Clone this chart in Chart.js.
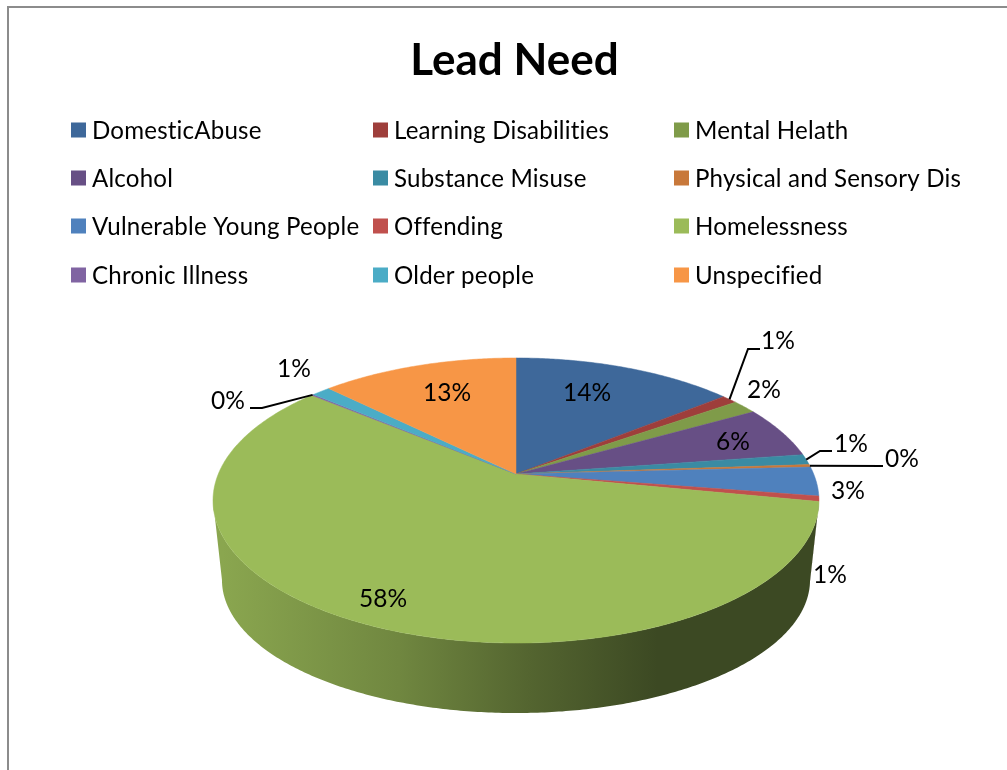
<!DOCTYPE html>
<html lang="en">
<head>
    <meta charset="UTF-8">
    <script src="https://cdn.jsdelivr.net/npm/chart.js"></script>
    <style>
        body { margin: 0; padding: 0; background: #fff; overflow: hidden; }
        .chart-container { position: relative; width: 1007px; height: 770px; }
        /* chart frame: only left and top edges show in the crop */
        .frame { position: absolute; left: 7px; top: 6px; width: 1000px; height: 764px;
                 border-left: 2px solid #8c8c8c; border-top: 2px solid #8c8c8c; }
        canvas { position: absolute; left: 0; top: 0; }
    </style>
</head>
<body>

    <div class="chart-container">
        <div class="frame"></div>
        <canvas id="myChart" width="1007" height="770"></canvas>
    </div>

    <script>
        const titleText = 'Lead Need';
        const categories = ['DomesticAbuse', 'Learning Disabilities', 'Mental Helath',
            'Alcohol', 'Substance Misuse', 'Physical and Sensory Dis',
            'Vulnerable Young People', 'Offending', 'Homelessness',
            'Chronic Illness', 'Older people', 'Unspecified'];
        const shares = [14.2, 1.0, 1.6, 5.9, 1.2, 0.3, 3.3, 0.6, 58.0, 0.14, 1.2, 12.6];
        const colors = ['#3e689a', '#9e3e3b', '#7f9b49', '#674f85', '#3a8ba3', '#c8783a',
            '#4f81bd', '#c0504d', '#9bbb59', '#8064a2', '#4bacc6', '#f79646'];

        // --- LAYOUT ---
        const FONT = 'Lato, Carlito, sans-serif';
        const legendCols = [71, 373, 674];
        const legendRows = [130, 178, 226, 275];
        // centre of each percentage label
        const labelPos = [[587, 393], [778, 341], [764, 390], [733, 442], [851, 444], [902, 459],
            [848, 491], [830, 575], [383, 599], [228, 401], [294, 369], [447, 393]];
        // leader lines: slice index -> points after the rim point
        const leaders = { 1: [[748, 349], [760, 349]], 4: [[820, 451], [832, 451]],
            5: [[883, 466]], 9: [[262, 408], [250, 408]] };

        // pie is a tilted disc, so use a projective map instead of a plain ellipse
        const k = 0.186;
        const topFace = { cx: 516, cy: 474, a: 297.7, b: 137.6 };
        const bottomFace = { cx: 516, cy: 555.3, a: 288.9, b: 128.4 };

        function project(f, angle) {
            const u = Math.cos(angle), v = Math.sin(angle), w = 1 - k * v;
            return [f.cx + f.a * u / w, f.cy + f.b * v / w];
        }

        class Arc3D extends Chart.ArcElement {
            static id = 'arc3d';
            draw(ctx) {
                const { startAngle, endAngle } = this.getProps(['startAngle', 'endAngle']);
                ctx.save();
                ctx.fillStyle = ctx.strokeStyle = this.options.backgroundColor;
                ctx.lineWidth = 0.5;
                ctx.beginPath();
                ctx.moveTo(topFace.cx, topFace.cy);
                const n = Math.max(2, Math.ceil((endAngle - startAngle) / 0.01));
                for (let i = 0; i <= n; i++) {
                    const p = project(topFace, startAngle + (endAngle - startAngle) * i / n);
                    ctx.lineTo(p[0], p[1]);
                }
                ctx.closePath();
                ctx.fill();
                ctx.stroke();
                ctx.restore();
            }
        }

        function shade(hex, f) {
            const n = parseInt(hex.slice(1), 16);
            return `rgb(${(n >> 16) * f}, ${((n >> 8) & 255) * f}, ${(n & 255) * f})`;
        }

        class Pie3D extends Chart.PieController {
            static id = 'pie3d';
            static defaults = { dataElementType: 'arc3d' };
            draw() {
                // side walls first, the top face goes over them
                const ctx = this.chart.ctx;
                const lo = Math.asin(k), hi = Math.PI - lo;
                this.getMeta().data.forEach((el, i) => {
                    const { startAngle, endAngle } = el.getProps(['startAngle', 'endAngle']);
                    const a0 = Math.max(startAngle, lo), a1 = Math.min(endAngle, hi);
                    if (a1 <= a0) return;
                    const base = colors[i];
                    const g = ctx.createLinearGradient(222, 0, 810, 0);
                    g.addColorStop(0, shade(base, 0.89));
                    g.addColorStop(0.3, shade(base, 0.72));
                    g.addColorStop(0.52, shade(base, 0.54));
                    g.addColorStop(0.74, shade(base, 0.39));
                    g.addColorStop(1, shade(base, 0.39));
                    ctx.save();
                    ctx.fillStyle = g;
                    ctx.beginPath();
                    const n = Math.ceil((a1 - a0) / 0.01);
                    for (let j = 0; j <= n; j++) {
                        const p = project(topFace, a0 + (a1 - a0) * j / n);
                        ctx.lineTo(p[0], p[1]);
                    }
                    for (let j = n; j >= 0; j--) {
                        const p = project(bottomFace, a0 + (a1 - a0) * j / n);
                        ctx.lineTo(p[0], p[1]);
                    }
                    ctx.closePath();
                    ctx.fill();
                    ctx.restore();
                });
                super.draw();
            }
        }

        Chart.register(Arc3D, Pie3D);

        // three column legend, Chart.js only lays out flowing rows
        const gridLegend = {
            id: 'gridLegend',
            afterDraw(chart) {
                const ctx = chart.ctx;
                ctx.save();
                ctx.font = '24.1px ' + FONT;
                ctx.letterSpacing = '0.2px'; // also stops the "ti" ligature
                ctx.textBaseline = 'middle';
                ctx.textAlign = 'left';
                chart.data.labels.forEach((label, i) => {
                    const x = legendCols[i % 3], y = legendRows[Math.floor(i / 3)];
                    ctx.fillStyle = colors[i];
                    ctx.fillRect(x, y - 7.5, 15, 15);
                    ctx.fillStyle = '#000';
                    ctx.fillText(label, x + 21, y + 1);
                });
                ctx.restore();
            }
        };

        const pieLabels = {
            id: 'pieLabels',
            afterDraw(chart) {
                const ctx = chart.ctx;
                const data = chart.data.datasets[0].data;
                const total = data.reduce((a, b) => a + b, 0);
                const arcs = chart.getDatasetMeta(0).data;
                ctx.save();
                ctx.strokeStyle = '#000';
                ctx.lineWidth = 2;
                Object.keys(leaders).forEach(i => {
                    const p = project(topFace, (arcs[i].startAngle + arcs[i].endAngle) / 2);
                    ctx.beginPath();
                    ctx.moveTo(p[0], p[1]);
                    leaders[i].forEach(q => ctx.lineTo(q[0], q[1]));
                    ctx.stroke();
                });
                ctx.font = '24.5px ' + FONT;
                ctx.fillStyle = '#000';
                ctx.textAlign = 'center';
                ctx.textBaseline = 'middle';
                data.forEach((v, i) => {
                    ctx.fillText(Math.round(v / total * 100) + '%', labelPos[i][0], labelPos[i][1]);
                });
                ctx.restore();
            }
        };

        new Chart(document.getElementById('myChart').getContext('2d'), {
            type: 'pie3d',
            data: {
                labels: categories,
                datasets: [{ data: shares, backgroundColor: colors, borderWidth: 0 }]
            },
            plugins: [gridLegend, pieLabels],
            options: {
                responsive: false,
                animation: false,
                layout: { padding: { left: 22 } },
                plugins: {
                    legend: { display: false },
                    tooltip: { enabled: false },
                    title: {
                        display: true,
                        text: titleText,
                        color: '#000',
                        font: { family: FONT, size: 44, weight: 'bold' },
                        padding: { top: 34, bottom: 10 }
                    }
                }
            }
        });
    </script>
</body>
</html>
